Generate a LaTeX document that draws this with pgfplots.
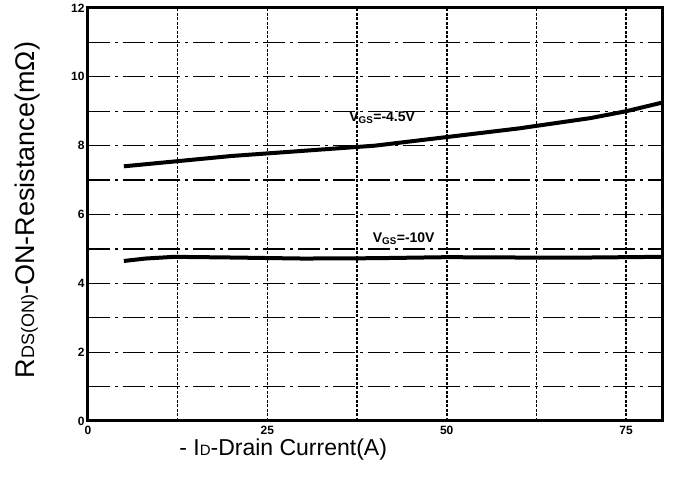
\documentclass[border=0pt]{standalone}
\usepackage{fontspec}
\setmainfont{Liberation Sans}
\usepackage{pgfplots}
\pgfplotsset{compat=1.18}

\begin{document}
\begin{tikzpicture}
\begin{axis}[
  name=ax,
  scale only axis,
  width=574pt, height=413pt,
  xmin=0, xmax=80,
  ymin=0, ymax=12,
  xtick={0,25,50,75},
  minor xtick={12.5,37.5,62.5},
  ytick={0,2,4,6,8,12},
  minor ytick={1,3,5,7,9,11},
  extra y ticks={10},
  extra y tick style={grid=major, major grid style={black, line width=1.5pt, dash pattern=on 3pt off 5pt on 6pt off 4pt}},
  major tick length=0pt, minor tick length=0pt,
  tick label style={font=\fontsize{12}{13}\selectfont\bfseries},
  /pgf/number format/assume math mode=true,
  xticklabel style={yshift=-2pt},
  grid=both,
  major x grid style={black, line width=1.5pt, dash pattern=on 3pt off 1.5pt},
  minor x grid style={black, line width=1.5pt, dash pattern=on 3pt off 1.5pt},
  major y grid style={black, line width=1.3pt, dash pattern=on 22pt off 5pt on 3pt off 5pt},
  minor y grid style={black, line width=1.3pt, dash pattern=on 22pt off 5pt on 3pt off 5pt},
  axis line style={black, line width=3pt},
  xlabel={- I\fontsize{15}{15}\selectfont D\fontsize{23}{25}\selectfont-Drain Current(A)},
  ylabel={R\fontsize{18}{18}\selectfont DS(ON)\fontsize{27}{29}\selectfont-ON-Resistance(mΩ)},
  xlabel style={font=\fontsize{23}{25}\selectfont, at={(axis description cs:0.34,-0.068)}, anchor=center},
  ylabel style={font=\fontsize{27}{29}\selectfont, at={(axis description cs:-0.106,0.511)}, anchor=center},
  clip=false,
]
\addplot[black, line width=4pt] coordinates {
  (5,7.4) (10,7.5) (20,7.7) (30,7.85) (40,8.0) (50,8.25) (60,8.5) (70,8.8) (75,9.0) (80,9.25)
};
\addplot[black, line width=4pt] coordinates {
  (5,4.65) (8,4.72) (12,4.77) (20,4.75) (30,4.72) (40,4.73) (50,4.76) (60,4.75) (70,4.75) (80,4.77)
};
\node[font=\fontsize{14}{15}\selectfont\bfseries] at (axis cs:41,8.8) {V$_{\mathbf{GS}}$=-4.5V};
\node[font=\fontsize{14}{15}\selectfont\bfseries] at (axis cs:44,5.3) {V$_{\mathbf{GS}}$=-10V};
\end{axis}
\path[use as bounding box] ([xshift=-88pt,yshift=-63pt]ax.south west) rectangle ([xshift=590pt,yshift=421pt]ax.south west);
\end{tikzpicture}
\end{document}
